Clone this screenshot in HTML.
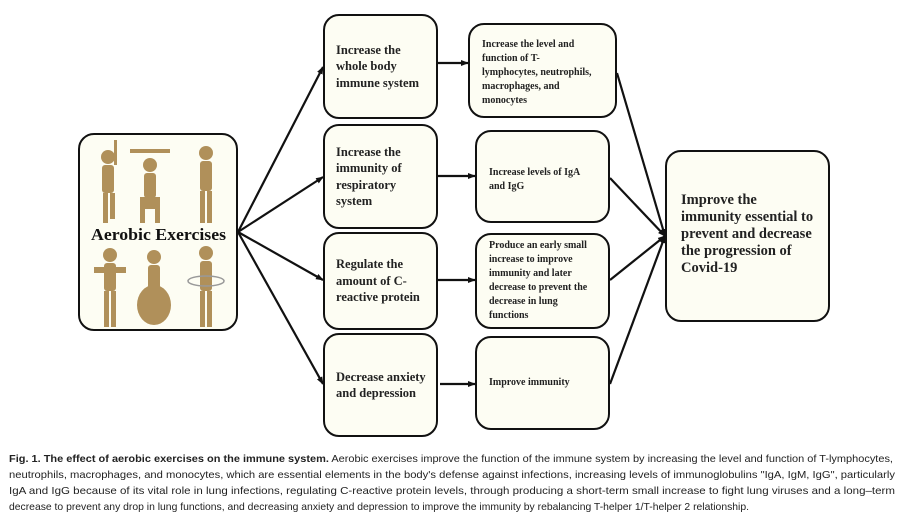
<!DOCTYPE html>
<html><head><meta charset="utf-8"><style>
body{margin:0;background:#fff;width:900px;height:517px;position:relative;overflow:hidden;font-family:"Liberation Serif",serif;}
.b{position:absolute;background:#fdfdf3;border:2.5px solid #111;border-radius:16px;box-sizing:border-box;font-weight:bold;color:#222;}
.m{font-size:12.5px;line-height:16.5px;padding-left:11px;display:flex;align-items:center;}
.r{font-size:10px;line-height:14px;padding-left:12px;}
</style></head><body>
<svg width="900" height="440" style="position:absolute;left:0;top:0">
<defs><marker id="a" markerWidth="8" markerHeight="8" refX="7" refY="4" orient="auto" markerUnits="userSpaceOnUse"><path d="M0,1 L8,4 L0,7z" fill="#111"/></marker></defs>
<g stroke="#111" stroke-width="2.2" fill="none" marker-end="url(#a)">
<line x1="238" y1="232" x2="323" y2="67"/>
<line x1="238" y1="232" x2="323" y2="177"/>
<line x1="238" y1="232" x2="323" y2="280"/>
<line x1="238" y1="232" x2="323" y2="384"/>
<line x1="438" y1="63" x2="468" y2="63"/>
<line x1="438" y1="176" x2="475" y2="176"/>
<line x1="438" y1="280" x2="475" y2="280"/>
<line x1="440" y1="384" x2="475" y2="384"/>
<line x1="617" y1="73" x2="665" y2="236"/>
<line x1="610" y1="178" x2="665" y2="236"/>
<line x1="610" y1="280" x2="665" y2="236"/>
<line x1="610" y1="384" x2="665" y2="236"/>
</g>
</svg>
<div class="b" style="left:78px;top:133px;width:160px;height:198px;">
<svg width="156" height="194" style="position:absolute;left:0;top:0">
<g fill="#b0905a">
<circle cx="28" cy="22" r="7"/><rect x="22" y="30" width="12" height="28" rx="3"/><rect x="23" y="58" width="5" height="30"/><rect x="30" y="58" width="5" height="26"/><rect x="34" y="5" width="3" height="25"/>
<circle cx="70" cy="30" r="7"/><rect x="50" y="14" width="40" height="4"/><rect x="64" y="38" width="12" height="25" rx="3"/><rect x="60" y="62" width="20" height="12"/><rect x="60" y="74" width="5" height="14"/><rect x="75" y="74" width="5" height="14"/>
<circle cx="126" cy="18" r="7"/><rect x="120" y="26" width="12" height="30" rx="3"/><rect x="120" y="56" width="5" height="32"/><rect x="127" y="56" width="5" height="32"/>
<circle cx="30" cy="120" r="7"/><rect x="14" y="132" width="32" height="6"/><rect x="24" y="128" width="12" height="28" rx="3"/><rect x="24" y="156" width="5" height="36"/><rect x="31" y="156" width="5" height="36"/>
<circle cx="74" cy="122" r="7"/><rect x="68" y="130" width="12" height="25" rx="3"/><ellipse cx="74" cy="170" rx="17" ry="20"/>
<circle cx="126" cy="118" r="7"/><rect x="120" y="126" width="12" height="30" rx="3"/><rect x="120" y="156" width="5" height="36"/><rect x="127" y="156" width="5" height="36"/>
</g>
<ellipse cx="126" cy="146" rx="18" ry="5" fill="none" stroke="#999" stroke-width="1.5"/>
<text x="11" y="105" textLength="135" lengthAdjust="spacingAndGlyphs" font-family="Liberation Serif" font-weight="bold" font-size="17" fill="#111">Aerobic Exercises</text>
</svg></div>
<div class="b m" style="left:323px;top:14px;width:115px;height:105px;">Increase the<br>whole body<br>immune system</div>
<div class="b m" style="left:323px;top:124px;width:115px;height:105px;">Increase the<br>immunity of<br>respiratory<br>system</div>
<div class="b m" style="left:323px;top:232px;width:115px;height:98px;">Regulate the<br>amount of C-<br>reactive protein</div>
<div class="b m" style="left:323px;top:333px;width:115px;height:104px;">Decrease anxiety<br>and depression</div>
<div class="b r" style="left:468px;top:23px;width:149px;height:95px;padding-top:13px;">Increase the level and<br>function of T-<br>lymphocytes, neutrophils,<br>macrophages, and<br>monocytes</div>
<div class="b r" style="left:475px;top:130px;width:135px;height:93px;padding-top:34px;">Increase levels of IgA<br>and IgG</div>
<div class="b r" style="left:475px;top:233px;width:135px;height:96px;padding-top:4px;">Produce an early small<br>increase to improve<br>immunity and later<br>decrease to prevent the<br>decrease in lung<br>functions</div>
<div class="b r" style="left:475px;top:336px;width:135px;height:94px;padding-top:38px;">Improve immunity</div>
<div class="b" style="left:665px;top:150px;width:165px;height:172px;font-size:14.5px;line-height:17px;padding:40px 0 0 14px;">Improve the<br>immunity essential to<br>prevent and decrease<br>the progression of<br>Covid-19</div>
<svg width="900" height="80" style="position:absolute;left:0;top:440px" font-family="Liberation Sans, sans-serif" font-size="10.5" fill="#222">
<text x="9" y="22" textLength="884" lengthAdjust="spacingAndGlyphs"><tspan font-weight="bold">Fig. 1.  The effect of aerobic exercises on the immune system.</tspan> Aerobic exercises improve the function of the immune system by increasing the level and function of T-lymphocytes,</text>
<text x="9" y="38" textLength="886" lengthAdjust="spacingAndGlyphs">neutrophils, macrophages, and monocytes, which are essential elements in the body's defense against infections, increasing levels of immunoglobulins "IgA, IgM, IgG", particularly</text>
<text x="9" y="54" textLength="886" lengthAdjust="spacingAndGlyphs">IgA and IgG because of its vital role in lung infections, regulating C-reactive protein levels, through producing a short-term small increase to fight lung viruses and a long–term</text>
<text x="9" y="70" textLength="740" lengthAdjust="spacingAndGlyphs">decrease to prevent any drop in lung functions, and decreasing anxiety and depression to improve the immunity by rebalancing T-helper 1/T-helper 2 relationship.</text>
</svg>
</body></html>
